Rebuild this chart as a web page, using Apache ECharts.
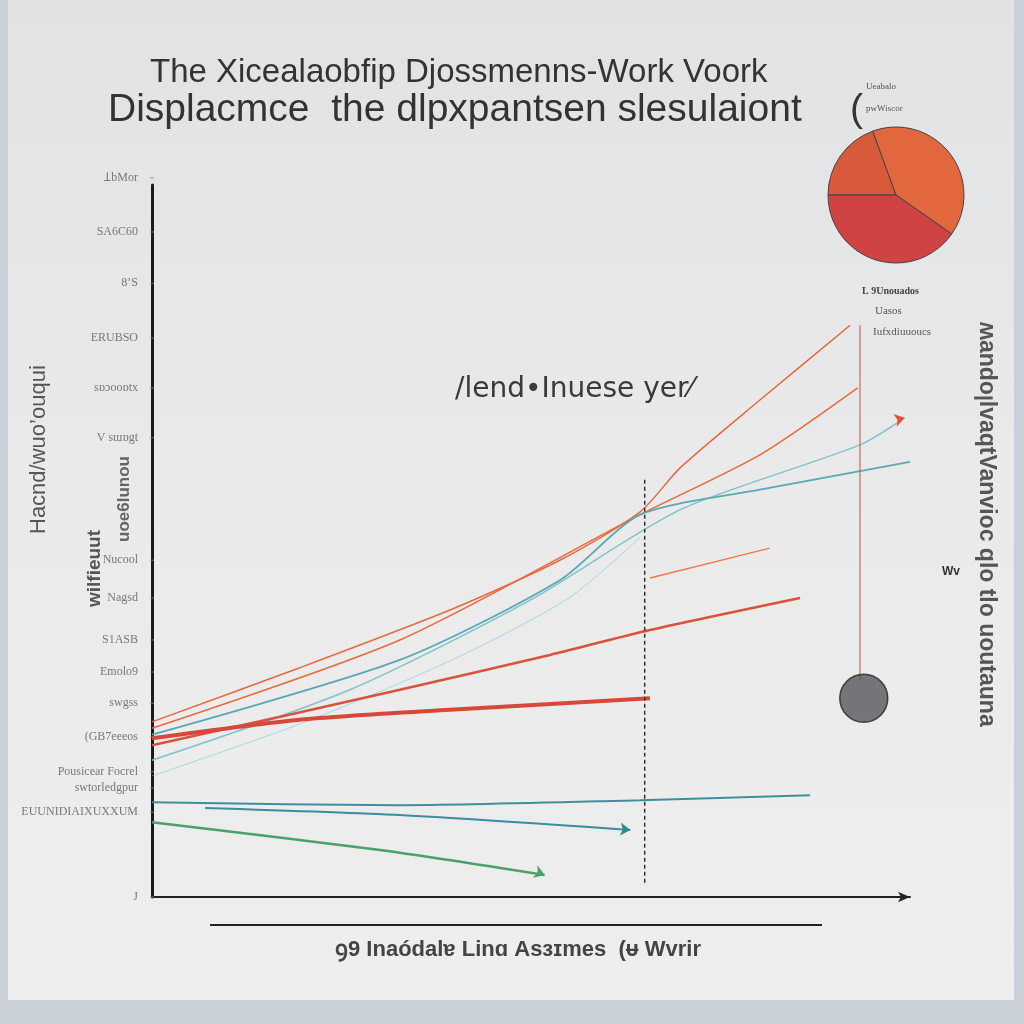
<!DOCTYPE html>
<html><head><meta charset="utf-8">
<script src="https://cdn.jsdelivr.net/npm/echarts@6/dist/echarts.min.js"></script>
<style>html,body{margin:0;padding:0;background:#c9d0d8;}#c{width:1024px;height:1024px;}</style>
</head><body><div id="c"></div>
<script>
// ---- data ----
const titleLine1 = 'The Xicealaobfip Djossmenns-Work Voork';
const titleLine2 = 'Displacmce  the dlpxpantsen slesulaiont';
const xAxisTitle = 'ꝯ9 Inaódalɐ Linɑ Asɜɪmes  (ᵾ Wvrir';
const annotation = '/lend•Inuese yer⁄';

const yTickLabels = ['ꞱbMor','SA6C60','8’S','ERUBSO','ѕɒɔooɒtx','V sɯɒgt','Nucool','Nagsd','S1ASB','Emolo9','swgss','(GB7eeeos','Pousicear Focrel','swtorledgpur','EUUNIDIAIXUXXUM','J'];
const yTickValues = [101, 93.4, 86.2, 78.5, 71.5, 64.5, 47.3, 42.0, 36.1, 31.6, 27.2, 22.5, 17.6, 15.3, 11.9, 0];

const orangeTop   = [[0,24.6],[19.5,32.2],[39.3,40.3],[53.8,47.3],[64.4,54.1],[69.7,60.3],[80.2,69.8],[92.1,80.3]];
const orangeSecond= [[0,23.7],[32.7,36.1],[64.4,53.7],[80.2,62.1],[93.1,71.5]];
const tealMain    = [[0,22.8],[32.7,33.3],[53.8,44.5],[64.4,53.7],[80.2,57.2],[100,61.1]];
const tealLight   = [[0,19.2],[26.1,29.1],[49.9,41.7],[69.7,54.4],[93.4,63.5],[99.3,67.3]];
const cyanFaint   = [[0,17.0],[20,24.5],[40,33.5],[55,42.0],[64.4,50.5]];
const redThick    = [[0,22.3],[19.5,24.9],[39.3,26.3],[65.7,27.9]];
const redMedium   = [[0,21.3],[32.7,29.1],[52.5,34.0],[65.7,37.5],[85.5,42.0]];
const orangeShort = [[65.7,44.8],[81.5,49.0]];
const tealFlat    = [[0,13.3],[32.7,12.9],[64.4,13.6],[86.8,14.3]];
const tealArrow   = [[7.0,12.5],[32.7,11.5],[63.1,9.4]];
const greenArrow  = [[0,10.5],[30.1,6.6],[51.8,3.1]];
const dashedGuide = [[65.0,58.6],[65.0,1.7]];
const solidGuide  = [[93.4,80.3],[93.4,30.5]];
const grayBob     = [[93.9,27.9]];
const pieValues   = [{name:'a',value:70},{name:'b',value:145},{name:'c',value:145}];
const pieColors   = ['#d85a3a','#e2673c','#cf4343'];
const legendTexts = ['L 9Unouados','Uasos','Iufxdiuuoucs'];
const topRightTexts = ['Ueabalo','pwWiscor'];
const rightVertical = 'ʍandoꞁlvaqtVanvioc qlo tlo uoutauna';
const leftVertical = ['Hacnd/wuo’ouqui','wilfieuut','uoe6lunou'];

// ---- chart ----
const chart = echarts.init(document.getElementById('c'), null, {renderer:'canvas'});
function lineSeries(data, color, width, opts) {
  return Object.assign({
    type:'line', data:data, symbol:'none', showSymbol:false, smooth:0.25,
    lineStyle:{color:color, width:width}, z:3, silent:true, animation:false
  }, opts||{});
}
function arrowEnd(data, color, rot) {
  const d = data.map(p=>({value:p, symbol:'none'}));
  d[d.length-1] = {value:data[data.length-1], symbol:'arrow', symbolSize:10, symbolRotate:rot, itemStyle:{color:color}};
  return d;
}
const tickSeries = {
  type:'scatter', data: yTickValues.map((v,i)=>({value:[0,v], name:yTickLabels[i]})),
  symbol:'rect', symbolSize:[4,1], itemStyle:{color:'#888'}, clip:false, silent:true,
  label:{show:true, position:'left', distance:12, formatter:p=>p.name, color:'#5a5a5a',
    fontFamily:'Liberation Serif, serif', fontSize:12}
};
chart.setOption({
  animation:false,
  backgroundColor:'transparent',
  grid:{left:152, right:114, top:185, bottom:127},
  xAxis:{type:'value', min:0, max:100, splitLine:{show:false}, axisTick:{show:false}, axisLabel:{show:false},
    axisLine:{show:true, symbol:['none','arrow'], symbolSize:[8,12], lineStyle:{color:'#222', width:2}}},
  yAxis:{type:'value', min:0, max:100, splitLine:{show:false}, axisTick:{show:false}, axisLabel:{show:false},
    axisLine:{show:true, lineStyle:{color:'#1a1a1a', width:3}}},
  graphic:[
    {type:'rect', shape:{x:8,y:0,width:1006,height:1000}, z:-10, style:{fill:new echarts.graphic.LinearGradient(0,0,0,1,[{offset:0,color:'#e1e2e4'},{offset:0.5,color:'#eaeaeb'},{offset:1,color:'#eeeeef'}])}},
    {type:'text', x:150, y:56, style:{text:titleLine1, font:'33px "Liberation Sans", sans-serif', fill:'#333'}},
    {type:'text', x:108, y:91, style:{text:titleLine2, font:'39px "Liberation Sans", sans-serif', fill:'#333'}},
    {type:'text', x:850, y:91, style:{text:'(', font:'39px "Liberation Sans", sans-serif', fill:'#333'}},
    {type:'text', x:455, y:376, style:{text:annotation, font:'28px "DejaVu Sans", sans-serif', fill:'#3a3a3a'}},
    {type:'text', x:335, y:939, style:{text:xAxisTitle, font:'bold 22px "Liberation Sans Narrow", "Liberation Sans", sans-serif', fill:'#444'}},
    {type:'line', shape:{x1:210,y1:925,x2:822,y2:925}, style:{stroke:'#222', lineWidth:2}},
    {type:'text', x:862, y:286, style:{text:legendTexts[0], font:'bold 10px "Liberation Serif", serif', fill:'#444'}},
    {type:'text', x:875, y:306, style:{text:legendTexts[1], font:'11px "Liberation Serif", serif', fill:'#555'}},
    {type:'text', x:873, y:327, style:{text:legendTexts[2], font:'11px "Liberation Serif", serif', fill:'#555'}},
    {type:'text', x:866, y:82, style:{text:topRightTexts[0], font:'9px "Liberation Serif", serif', fill:'#555'}},
    {type:'text', x:866, y:104, style:{text:topRightTexts[1], font:'9px "Liberation Serif", serif', fill:'#555'}},
    {type:'text', x:998, y:322, rotation:-Math.PI/2, style:{text:rightVertical, font:'bold 23px "Liberation Sans Narrow", "Liberation Sans", sans-serif', fill:'#555'}},
    {type:'text', x:942, y:566, style:{text:'Wv', font:'bold 12px "Liberation Sans", sans-serif', fill:'#333'}},
    {type:'text', x:28, y:534, rotation:Math.PI/2, style:{text:leftVertical[0], font:'22px "Liberation Sans Narrow", "Liberation Sans", sans-serif', fill:'#555'}},
    {type:'text', x:85, y:607, rotation:Math.PI/2, style:{text:leftVertical[1], font:'bold 19px "Liberation Sans Narrow", "Liberation Sans", sans-serif', fill:'#555'}},
    {type:'text', x:116, y:542, rotation:Math.PI/2, style:{text:leftVertical[2], font:'bold 17px "Liberation Sans Narrow", "Liberation Sans", sans-serif', fill:'#666'}}
  ],
  series:[
    {type:'pie', center:[896,195], radius:68, startAngle:180, clockwise:true, data:pieValues,
      label:{show:false}, labelLine:{show:false}, silent:true,
      itemStyle:{borderColor:'#444', borderWidth:1},
      color:pieColors},
    tickSeries,
    lineSeries(cyanFaint, 'rgba(120,200,210,0.6)', 1),
    lineSeries(orangeTop, '#e46a3c', 1.5),
    lineSeries(orangeSecond, '#e8693b', 1.5),
    lineSeries(tealLight, '#7fc3c9', 1.5, {data:arrowEnd(tealLight,'#e0533a',-75), showSymbol:true}),
    lineSeries(tealMain, '#5aa8b3', 1.8),
    lineSeries(redMedium, '#d9533a', 2.5),
    lineSeries(orangeShort, '#ec7a4a', 1.5),
    lineSeries(redThick, '#d6493a', 4),
    lineSeries(tealFlat, '#3d8f9e', 2),
    lineSeries(tealArrow, '#3a8ea0', 2, {data:arrowEnd(tealArrow,'#2f8797',-95), showSymbol:true}),
    lineSeries(greenArrow, '#4aa26a', 2.5, {data:arrowEnd(greenArrow,'#4aa26a',-110), showSymbol:true}),
    lineSeries(dashedGuide, '#333', 1.5, {smooth:false, lineStyle:{color:'#333', width:1.5, type:[4,3]}}),
    lineSeries(solidGuide, '#b5584a', 1, {smooth:false}),
    {type:'scatter', data:grayBob, symbolSize:48, itemStyle:{color:'#58585c', borderColor:'#222', borderWidth:1.5}, silent:true, z:4}
  ]
});
</script></body></html>
